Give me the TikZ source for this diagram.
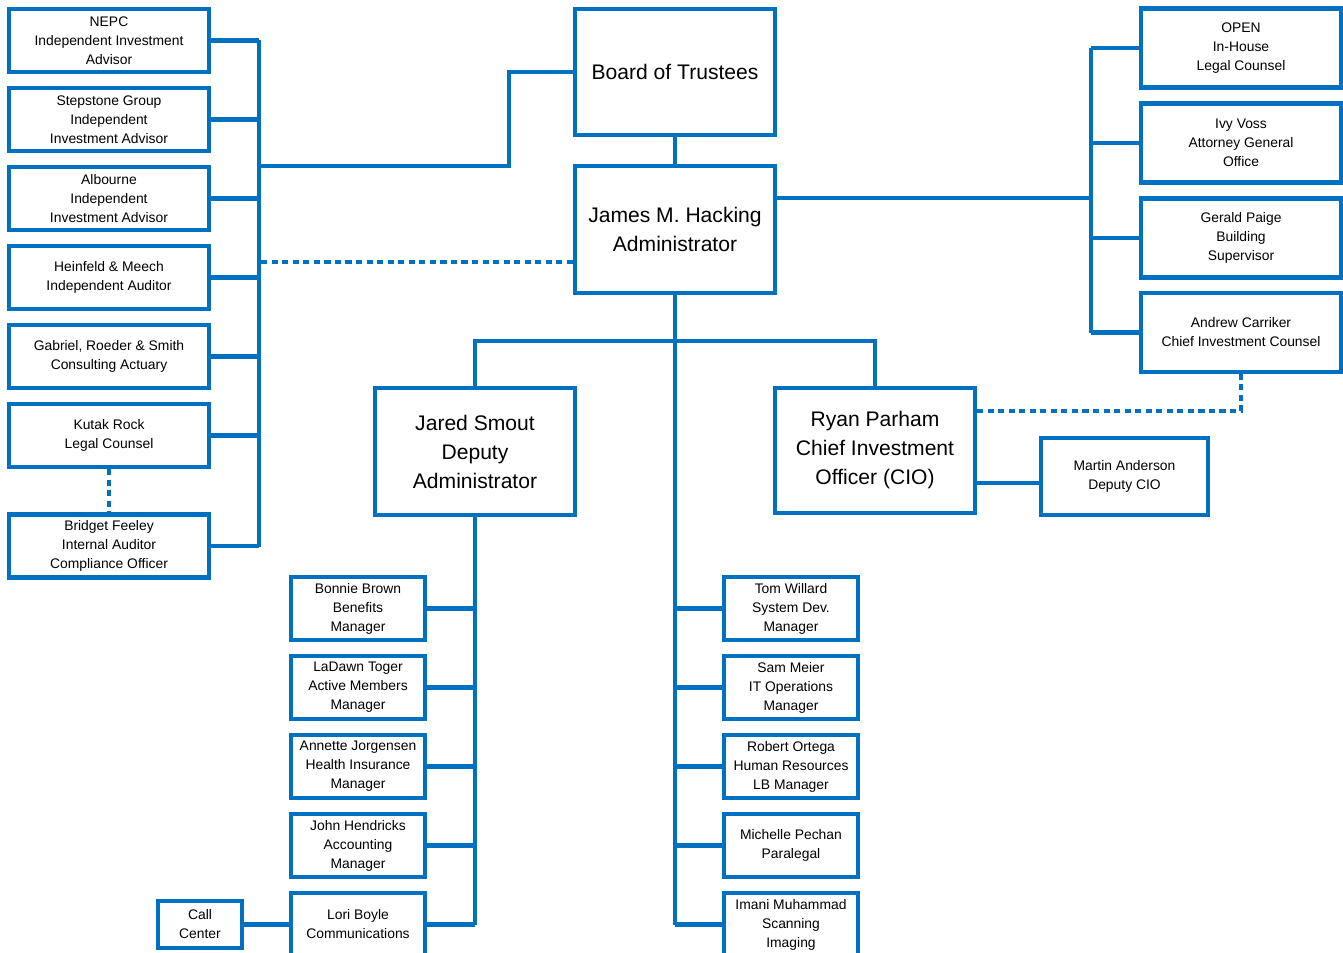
\documentclass[tikz,border=0pt]{standalone}
\usepackage{fontspec}
\setmainfont{Liberation Sans}
\usepackage{tikz}
\usetikzlibrary{positioning}
\definecolor{orgblue}{RGB}{0,112,192}

\begin{document}
\begin{tikzpicture}[x=0.02cm, y=-0.02cm,
    box/.style={draw=orgblue, line width=2.3pt, align=center, inner sep=0pt, fill=white},
    small/.style={box, font=\fontsize{7.9}{10.8}\selectfont},
    big/.style={box, minimum width=4cm, font=\fontsize{12}{16.5}\selectfont},
    sidebox/.style={small, minimum width=4cm, minimum height=1.26cm},
    rightbox/.style={small, minimum width=4cm, minimum height=1.58cm},
    staff/.style={small, minimum width=2.68cm, minimum height=1.26cm},
    link/.style={draw=orgblue, line width=2.3pt},
    dlink/.style={link, dash pattern=on 3.5pt off 2.5pt}]
    \clip (0,0) rectangle (1343,953);
    \fill[white] (0,0) rectangle (1343,953);

    % top of the chart
    \node[big, minimum height=2.52cm] (board) at (675,72) {Board of Trustees};
    \node[big, minimum height=2.54cm] (hacking) at (675,229.5) {James M. Hacking\\Administrator};
    \draw[link] (board.south) -- (hacking.north);

    % outside advisors, left
    \node[sidebox] (nepc) at (109,40.5) {NEPC\\Independent Investment\\Advisor};
    \node[sidebox] (stepstone) at (109,119.5) {Stepstone Group\\Independent\\Investment Advisor};
    \node[sidebox] (albourne) at (109,198.5) {Albourne\\Independent\\Investment Advisor};
    \node[sidebox] (heinfeld) at (109,277.5) {Heinfeld \& Meech\\Independent Auditor};
    \node[sidebox] (gabriel) at (109,356.5) {Gabriel, Roeder \& Smith\\Consulting Actuary};
    \node[sidebox] (kutak) at (109,435.5) {Kutak Rock\\Legal Counsel};
    \node[sidebox] (bridget) at (109,546) {Bridget Feeley\\Internal Auditor\\Compliance Officer};
    \coordinate (lbusTop) at (259,40.5);
    \coordinate (lbusBot) at (259,547);
    \coordinate (lbend) at (509,166);
    \draw[link] (lbusTop) -- (lbusBot);
    \draw[link] (nepc.east) -- (nepc.east -| lbusTop);
    \draw[link] (stepstone.east) -- (stepstone.east -| lbusTop);
    \draw[link] (albourne.east) -- (albourne.east -| lbusTop);
    \draw[link] (heinfeld.east) -- (heinfeld.east -| lbusTop);
    \draw[link] (gabriel.east) -- (gabriel.east -| lbusTop);
    \draw[link] (kutak.east) -- (kutak.east -| lbusTop);
    \draw[link] (bridget.east) -- (bridget.east -| lbusTop);
    \draw[link] (lbend -| lbusTop) -- (lbend) |- (board.west);
    \draw[dlink] ([yshift=-0.65cm]hacking.west) -- ([yshift=-0.65cm]hacking.west -| lbusTop);
    \draw[dlink] (kutak.south) -- (bridget.north);

    % staff, right
    \node[rightbox] (open) at (1241,48) {OPEN\\In-House\\Legal Counsel};
    \node[rightbox] (voss) at (1241,143) {Ivy Voss\\Attorney General\\Office};
    \node[rightbox] (paige) at (1241,238) {Gerald Paige\\Building\\Supervisor};
    \node[rightbox] (carriker) at (1241,332.5) {Andrew Carriker\\Chief Investment Counsel};
    \coordinate (rbusTop) at (1091,48);
    \coordinate (rbusBot) at (1091,332.5);
    \draw[link] (rbusTop) -- (rbusBot);
    \draw[link] (open.west) -- (open.west -| rbusTop);
    \draw[link] (voss.west) -- (voss.west -| rbusTop);
    \draw[link] (paige.west) -- (paige.west -| rbusTop);
    \draw[link] (carriker.west) -- (carriker.west -| rbusTop);
    \draw[link] ([yshift=0.63cm]hacking.east) -- ([yshift=0.63cm]hacking.east -| rbusTop);

    % deputies
    \node[big, minimum height=2.54cm] (smout) at (475,451.5) {Jared Smout\\Deputy\\Administrator};
    \node[big, minimum height=2.5cm] (parham) at (875,450.5) {Ryan Parham\\Chief Investment\\Officer (CIO)};
    \node[small, minimum width=3.34cm, minimum height=1.54cm] (anderson) at (1124.5,476.5) {Martin Anderson\\Deputy CIO};
    \coordinate (split) at (675,341);
    \draw[link] (smout.north) |- (split) -| (parham.north);
    \draw[link] ([yshift=-0.65cm]parham.east) -- ([yshift=-0.65cm]parham.east -| anderson.west);
    \draw[dlink] ([yshift=0.79cm]parham.east) -| (carriker.south);

    % deputy administrator staff
    \node[staff] (brown) at (358,608.5) {Bonnie Brown\\Benefits\\Manager};
    \node[staff] (toger) at (358,687.5) {LaDawn Toger\\Active Members\\Manager};
    \node[staff] (jorgensen) at (358,766.5) {Annette Jorgensen\\Health Insurance\\Manager};
    \node[staff] (hendricks) at (358,845.5) {John Hendricks\\Accounting\\Manager};
    \node[staff] (boyle) at (358,924.5) {Lori Boyle\\Communications};
    \node[small, minimum width=1.68cm, minimum height=0.94cm] (callctr) at (200,924.5) {Call\\Center};
    \draw[link] (smout.south) -- (smout.south |- boyle.east);
    \draw[link] (brown.east) -- (brown.east -| smout.south);
    \draw[link] (toger.east) -- (toger.east -| smout.south);
    \draw[link] (jorgensen.east) -- (jorgensen.east -| smout.south);
    \draw[link] (hendricks.east) -- (hendricks.east -| smout.south);
    \draw[link] (boyle.east) -- (boyle.east -| smout.south);
    \draw[link] (callctr.east) -- (boyle.west);

    % administrator staff
    \node[staff] (willard) at (791,608.5) {Tom Willard\\System Dev.\\Manager};
    \node[staff] (meier) at (791,687.5) {Sam Meier\\IT Operations\\Manager};
    \node[staff] (ortega) at (791,766.5) {Robert Ortega\\Human Resources\\LB Manager};
    \node[staff] (pechan) at (791,845.5) {Michelle Pechan\\Paralegal};
    \node[staff] (muhammad) at (791,924.5) {Imani Muhammad\\Scanning\\Imaging};
    \draw[link] (hacking.south) -- (hacking.south |- muhammad.west);
    \draw[link] (willard.west) -- (willard.west -| hacking.south);
    \draw[link] (meier.west) -- (meier.west -| hacking.south);
    \draw[link] (ortega.west) -- (ortega.west -| hacking.south);
    \draw[link] (pechan.west) -- (pechan.west -| hacking.south);
    \draw[link] (muhammad.west) -- (muhammad.west -| hacking.south);
\end{tikzpicture}
\end{document}
